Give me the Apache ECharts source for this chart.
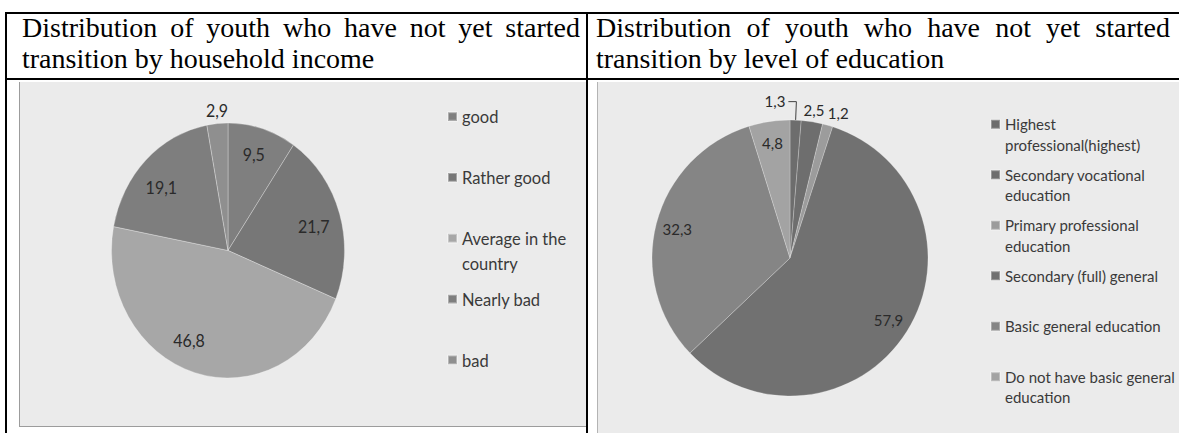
<!DOCTYPE html>
<html>
<head>
<meta charset="utf-8">
<script src="https://cdn.jsdelivr.net/npm/echarts@6/dist/echarts.min.js"></script>
<style>
html,body{margin:0;padding:0;background:#fff;width:1179px;height:433px;overflow:hidden;position:relative;}
.line{position:absolute;background:#000;}
.hdr{position:absolute;top:12px;font-family:"Liberation Serif","Times New Roman",serif;font-size:28px;line-height:31px;color:#000;white-space:nowrap;}
.hdr .just{text-align:justify;text-align-last:justify;white-space:normal;}
.box{position:absolute;background:#ebebeb;box-sizing:border-box;}
.chart{position:absolute;}
</style>
</head>
<body>
<div class="line" style="left:5px;top:12px;width:1174px;height:2px"></div>
<div class="line" style="left:5px;top:78px;width:1174px;height:2px"></div>
<div class="box" style="left:19px;top:82px;width:567px;height:345px;border-left:1px solid #9c9c9c;border-bottom:1px solid #9c9c9c;"></div>
<div class="box" style="left:597px;top:82px;width:582px;height:351px;border-left:1px solid #b4b4b4;"></div>
<div class="line" style="left:5px;top:12px;width:2px;height:421px"></div>
<div class="line" style="left:586px;top:12px;width:2px;height:421px"></div>
<div class="hdr" id="h1" style="left:22px;width:558px"><div class="just" id="h1a"></div><div id="h1b"></div></div>
<div class="hdr" id="h2" style="left:596px;width:574px"><div class="just" id="h2a"></div><div id="h2b"></div></div>
<div class="chart" id="c1" style="left:20px;top:82px;width:566px;height:314px;transform:scaleY(1.094);transform-origin:0 0;"></div>
<div class="chart" id="c2" style="left:598px;top:82px;width:581px;height:351px;"></div>
<script>
// ---- data ----
const headerIncome = ['Distribution of youth who have not yet started', 'transition by household income'];
const headerEducation = ['Distribution of youth who have not yet started', 'transition by level of education'];

const incomeCategories = ['good', 'Rather good', 'Average in the country', 'Nearly bad', 'bad'];
const incomeValues = [9.5, 21.7, 46.8, 19.1, 2.9];
const incomeLegendLabels = ['good', 'Rather good', 'Average in the\ncountry', 'Nearly bad', 'bad'];

const educationCategories = ['Highest professional(highest)', 'Secondary vocational education', 'Primary professional education', 'Secondary (full) general', 'Basic general education', 'Do not have basic general education'];
const educationValues = [1.3, 2.5, 1.2, 57.9, 32.3, 4.8];
const educationLegendLabels = ['Highest\nprofessional(highest)', 'Secondary vocational\neducation', 'Primary professional\neducation', 'Secondary (full) general', 'Basic general education', 'Do not have basic general\neducation'];

// ---- styles ----
const incomeColors = ['#7f7f7f', '#777777', '#a7a7a7', '#7e7e7e', '#8f8f8f'];
const incomeLabelOffsets = [[0, -4], [2, 3], [-14, -2], [-5, 4], [-3, -41]];
const educationColors = ['#6d6d6d', '#6e6e6e', '#9c9c9c', '#717171', '#858585', '#a3a3a3'];
const educationLabelMode = ['leaderLeft', 'above', 'above', 'inside', 'inside', 'inside'];
const educationLineLen = [18.5, 12, 13];
const educationLineLen2 = [8, 0, 7];

document.getElementById('h1a').textContent = headerIncome[0];
document.getElementById('h1b').textContent = headerIncome[1];
document.getElementById('h2a').textContent = headerEducation[0];
document.getElementById('h2b').textContent = headerEducation[1];

const fmtVal = p => p.value.toFixed(1).replace('.', ',');

// two-line entries get a blank leading line so that their first line sits level with the marker;
// one-line entries get symmetric padding so every entry occupies the same height
function legendData(names, labels, L) {
  return names.map((n, i) => ({
    name: n,
    textStyle: { padding: labels[i].indexOf('\n') >= 0 ? [0, 0, 0, 0] : [L, 0, L, 0] }
  }));
}
function legendFormatter(names, labels) {
  return name => {
    const t = labels[names.indexOf(name)];
    return t.indexOf('\n') >= 0 ? '\n' + t : t;
  };
}

// ---- income chart ----
const LI = 22.4;
const c1 = echarts.init(document.getElementById('c1'), null, { renderer: 'svg' });
c1.setOption({
  animation: false,
  legend: {
    orient: 'vertical', left: 427, top: -2, padding: 0, itemGap: 55.6 - 3 * LI,
    itemWidth: 9, itemHeight: 8, icon: 'rect', selectedMode: false,
    data: legendData(incomeCategories, incomeLegendLabels, LI),
    formatter: legendFormatter(incomeCategories, incomeLegendLabels),
    textStyle: { fontFamily: 'Lato', fontSize: 16.5, lineHeight: LI, color: '#3a3a3a', backgroundColor: 'rgba(0,0,0,0)' }
  },
  series: [
    {
      type: 'pie', center: [208, 154], radius: [0, 116.5], startAngle: 90, clockwise: true,
      avoidLabelOverlap: false, silent: true,
      itemStyle: { borderColor: 'rgba(255,255,255,0.35)', borderWidth: 0.8 },
      label: { show: false }, labelLine: { show: false },
      data: incomeCategories.map((n, i) => ({ name: n, value: incomeValues[i], itemStyle: { color: incomeColors[i] } }))
    },
    {
      type: 'pie', center: [208, 154], radius: [0, 169], startAngle: 90, clockwise: true,
      avoidLabelOverlap: false, silent: true, legendHoverLink: false,
      itemStyle: { color: 'rgba(0,0,0,0)', borderWidth: 0 },
      label: { show: true, position: 'inside', formatter: fmtVal, fontFamily: 'Lato', fontSize: 16, color: '#2a2a2a' },
      labelLine: { show: false },
      data: incomeCategories.map((n, i) => ({ name: n, value: incomeValues[i], label: { offset: incomeLabelOffsets[i] } }))
    }
  ]
});

// ---- education chart ----
const LE = 20.5;
const c2 = echarts.init(document.getElementById('c2'), null, { renderer: 'svg' });
c2.setOption({
  animation: false,
  legend: {
    orient: 'vertical', left: 392, top: 11.5, padding: 0, itemGap: 50.5 - 3 * LE,
    itemWidth: 9, itemHeight: 9, icon: 'rect', selectedMode: false,
    data: legendData(educationCategories, educationLegendLabels, LE),
    formatter: legendFormatter(educationCategories, educationLegendLabels),
    textStyle: { fontFamily: 'Lato', fontSize: 15, lineHeight: LE, color: '#3a3a3a', backgroundColor: 'rgba(0,0,0,0)' }
  },
  series: [
    {
      type: 'pie', center: [192, 176], radius: [0, 138], startAngle: 90, clockwise: true,
      avoidLabelOverlap: false, silent: true,
      itemStyle: { borderColor: 'rgba(255,255,255,0.3)', borderWidth: 0.8 },
      label: { show: false }, labelLine: { show: false },
      labelLayout: function (p) {
        const mode = educationLabelMode[p.dataIndex];
        if (mode === 'leaderLeft' && p.labelLinePoints) {
          const pts = p.labelLinePoints;
          const run = pts[2][0] - pts[1][0];
          const end = [pts[1][0] - run, pts[1][1]];
          return { x: end[0] - 3, y: end[1] - 1, align: 'right', verticalAlign: 'middle', labelLinePoints: [pts[0], pts[1], end] };
        }
        if (mode === 'above') {
          const r = p.labelRect;
          return { x: r.x, y: r.y + r.height / 2, align: 'center', verticalAlign: 'middle' };
        }
        return {};
      },
      data: educationCategories.map((n, i) => {
        const d = { name: n, value: educationValues[i], itemStyle: { color: educationColors[i] } };
        if (educationLabelMode[i] !== 'inside') {
          d.label = { show: true, position: 'outside', distanceToLabelLine: 0, formatter: fmtVal, fontFamily: 'Lato', fontSize: 15, color: '#2a2a2a' };
          d.labelLine = { show: educationLabelMode[i] === 'leaderLeft', length: educationLineLen[i], length2: educationLineLen2[i], smooth: false, lineStyle: { color: '#404040', width: 1 } };
        }
        return d;
      })
    },
    {
      type: 'pie', center: [192, 176], radius: [0, 227], startAngle: 90, clockwise: true,
      avoidLabelOverlap: false, silent: true, legendHoverLink: false,
      itemStyle: { color: 'rgba(0,0,0,0)', borderWidth: 0 },
      label: { show: true, position: 'inside', formatter: fmtVal, fontFamily: 'Lato', fontSize: 15, color: '#2a2a2a' },
      labelLine: { show: false },
      data: educationCategories.map((n, i) => ({ name: n, value: educationValues[i], label: { show: educationLabelMode[i] === 'inside' } }))
    }
  ]
});
</script>
</body>
</html>
